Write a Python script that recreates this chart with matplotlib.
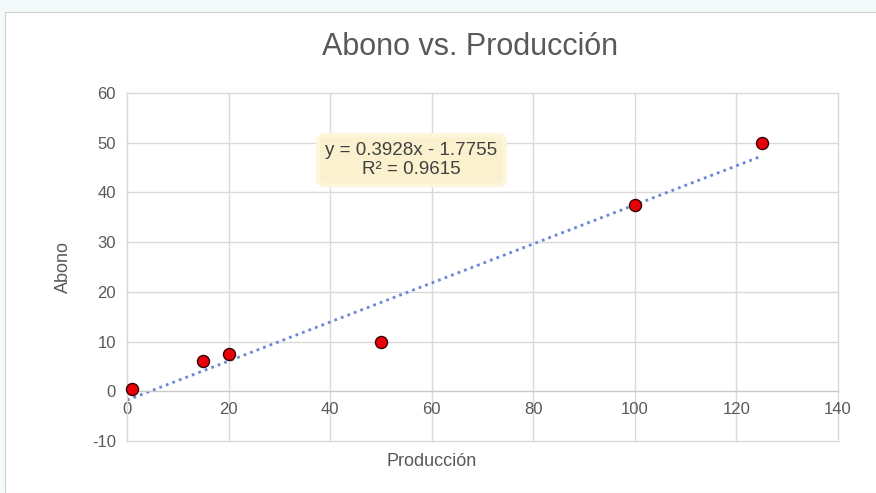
import matplotlib
matplotlib.use("Agg")
import matplotlib.pyplot as plt
import numpy as np
from matplotlib.patches import Rectangle

# data
produccion = [1, 15, 20, 50, 100, 125]
abono = [0.5, 6, 7.5, 10, 37.5, 50]
slope, intercept = 0.3928, -1.7755
r2 = 0.9615

plt.rcParams['font.family'] = ['Liberation Sans', 'DejaVu Sans']
plt.rcParams['axes.unicode_minus'] = False

fig = plt.figure(figsize=(8.76, 4.93), dpi=100)
fig.patch.set_facecolor('#f4f9f9')
# white chart area
fig.patches.append(Rectangle((5 / 876, 0), 1, 1 - 12 / 493, transform=fig.transFigure,
                             facecolor='white', edgecolor='#d0d0d0', lw=0.8, zorder=-5))

ax = fig.add_axes([127 / 876, 1 - 441 / 493, 711 / 876, 348 / 493])
ax.set_facecolor('white')

# trend line
xt = np.array([0, 125])
ax.plot(xt, slope * xt + intercept, linestyle=(0, (1, 1.5)), color='#6a86d6', lw=2, zorder=2)

ax.scatter(produccion, abono, s=75, color='#e8000b', edgecolors='#3a0000',
           linewidths=1, zorder=3, clip_on=False)

ax.set_xlim(0, 140)
ax.set_ylim(-10, 60)
ax.set_xticks(range(0, 141, 20))
ax.set_yticks(range(-10, 61, 10))
ax.grid(True, color='#d9d9d9', lw=1, clip_on=False)
ax.set_axisbelow(True)
for s in ['top', 'right']:
    ax.spines[s].set_visible(False)
ax.spines['left'].set_color('#d9d9d9')
ax.spines['bottom'].set_color('#c8c8c8')
ax.spines['bottom'].set_position(('data', 0))
ax.tick_params(length=0, labelsize=12, colors='#595959', pad=8)

ax.set_ylabel('Abono', fontsize=13, color='#595959', labelpad=14)
fig.text((127 + 711 * 60 / 140) / 876, 1 - 461 / 493, 'Producción', fontsize=13,
         color='#595959', ha='center', va='center')

fig.text(470 / 876, 1 - 47 / 493, 'Abono vs. Producción', fontsize=22, color='#595959',
         ha='center', va='center')

ax.text(56, 46.5, 'y = 0.3928x - 1.7755\nR² = %.4f' % r2, fontsize=13.5,
        color='#404040', ha='center', va='center', linespacing=1.1,
        bbox=dict(boxstyle='round,pad=0.4', facecolor='#fbf1cf', edgecolor='#fdf6dc', lw=3))

fig.savefig('out.png', dpi=100, facecolor=fig.get_facecolor())
